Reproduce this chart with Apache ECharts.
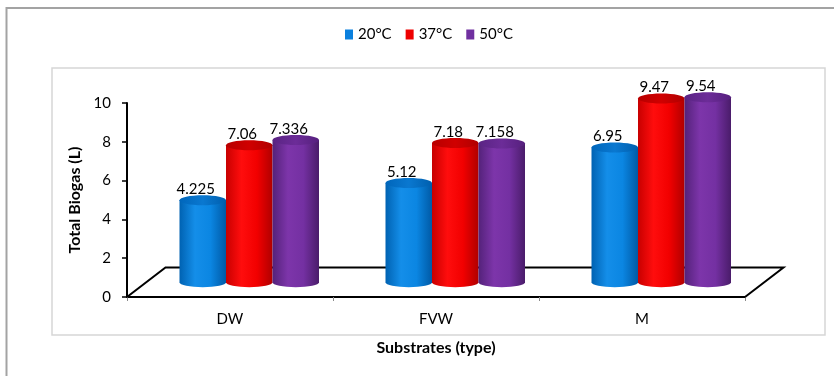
<!DOCTYPE html>
<html>
<head>
<meta charset="utf-8">
<script src="https://cdn.jsdelivr.net/npm/echarts@6/dist/echarts.min.js"></script>
<style>
  html, body { margin: 0; padding: 0; background: #ffffff; }
  #chart { width: 834px; height: 376px; }
</style>
</head>
<body>
<div id="chart"></div>
<script>
// Total biogas yield per substrate at three digestion temperatures
const substrates = ['DW', 'FVW', 'M'];
const temperatures = ['20°C', '37°C', '50°C'];
const biogas20 = [4.225, 5.12, 6.95];
const biogas37 = [7.06, 7.18, 9.47];
const biogas50 = [7.336, 7.158, 9.54];
const yTicks = [0, 2, 4, 6, 8, 10];

const seriesValues = [biogas20, biogas37, biogas50];

// Shading for each cylinder: dark edges, bright core, darker cap
const shades = [
  { legend: '#0a80de', stops: ['#0062b2', '#148ee9', '#0b86e2', '#005aa6'], cap: ['#0066bb', '#0a78d0', '#005fae'] },
  { legend: '#ee0000', stops: ['#c80000', '#ff0d0d', '#f20000', '#b00000'], cap: ['#b80000', '#d00000', '#b00000'] },
  { legend: '#7030a0', stops: ['#54227a', '#7d35aa', '#7430a2', '#4a1c6a'], cap: ['#5a2484', '#6c2c98', '#56207e'] }
];

const FONT = 'Lato, "Open Sans", sans-serif';
const DEPTH = [38.5, -29.5];     // floor depth vector (px)
const BAR_RATIO = 46.5 / 206;    // cylinder diameter relative to category band
const CAP_RY = 5;                // vertical radius of the cylinder ellipses

function grad(colors) {
  const n = colors.length;
  return new echarts.graphic.LinearGradient(0, 0, 1, 0,
    colors.map((c, i) => ({ offset: i / (n - 1), color: c })));
}

function cylinderRenderer(si) {
  return function (params, api) {
    const idx = api.value(0);
    const v = api.value(1);
    const base = api.coord([idx, 0]);
    const top = api.coord([idx, v]);
    const band = api.size([1, 0])[0];
    const w = band * BAR_RATIO;
    const rx = w / 2;
    const cx = base[0] + (si - 1) * w + DEPTH[0] / 2;
    const yb = base[1] + DEPTH[1] / 2;
    const yt = top[1] + DEPTH[1] / 2;
    const sh = shades[si];
    const body = 'M' + (cx - rx) + ' ' + yt +
      ' L' + (cx - rx) + ' ' + yb +
      ' A' + rx + ' ' + CAP_RY + ' 0 0 0 ' + (cx + rx) + ' ' + yb +
      ' L' + (cx + rx) + ' ' + yt + ' Z';
    return {
      type: 'group',
      children: [
        {
          type: 'path',
          shape: { pathData: body },
          style: { fill: grad(sh.stops), stroke: null }
        },
        {
          type: 'ellipse',
          shape: { cx: cx, cy: yt, rx: rx, ry: CAP_RY },
          style: { fill: grad(sh.cap), stroke: null }
        },
        {
          type: 'text',
          style: {
            text: String(v),
            x: cx - 7,
            y: yt - CAP_RY - 6,
            align: 'center',
            verticalAlign: 'middle',
            fontSize: 15,
            fontFamily: FONT,
            fill: '#000000'
          }
        }
      ]
    };
  };
}

// Floor of the 3D plot: left, back and right edges (the front edge is the x axis line)
function floorRenderer(params, api) {
  const cs = params.coordSys;
  const x0 = cs.x, x1 = cs.x + cs.width, y0 = cs.y + cs.height;
  return {
    type: 'polyline',
    shape: {
      points: [
        [x0, y0],
        [x0 + DEPTH[0], y0 + DEPTH[1]],
        [x1 + DEPTH[0], y0 + DEPTH[1]],
        [x1, y0]
      ]
    },
    style: { stroke: '#000000', lineWidth: 2, fill: null }
  };
}

const series = [{
  type: 'custom',
  name: 'floor',
  silent: true,
  z: 1,
  renderItem: floorRenderer,
  data: [[0, 0]]
}];
temperatures.forEach((t, si) => {
  series.push({
    type: 'custom',
    name: t,
    z: 2 + si,
    itemStyle: { color: shades[si].legend },
    renderItem: cylinderRenderer(si),
    encode: { x: 0, y: 1 },
    data: seriesValues[si].map((v, i) => [i, v])
  });
});

const chart = echarts.init(document.getElementById('chart'), null, { renderer: 'canvas' });
chart.setOption({
  backgroundColor: '#ffffff',
  animation: false,
  textStyle: { fontFamily: FONT },
  graphic: [
    {
      type: 'polyline',
      silent: true,
      shape: { points: [[6.5, 376], [6.5, 8], [834, 8]] },
      style: { stroke: '#a3a3a3', lineWidth: 2, fill: null }
    },
    {
      type: 'rect',
      silent: true,
      shape: { x: 52, y: 68, width: 773, height: 267 },
      style: { stroke: '#d6d6d6', lineWidth: 1.5, fill: null }
    }
  ],
  legend: {
    data: temperatures,
    left: 340,
    top: 22,
    icon: 'rect',
    itemWidth: 8,
    itemHeight: 10,
    itemGap: 14,
    textStyle: { fontSize: 15, color: '#000000', fontFamily: FONT }
  },
  grid: { left: 127, right: 89, top: 103, bottom: 79 },
  xAxis: {
    type: 'category',
    data: substrates,
    boundaryGap: true,
    name: 'Substrates (type)',
    nameLocation: 'middle',
    nameGap: 43,
    nameTextStyle: { fontSize: 16, fontWeight: 'bold', color: '#000000', fontFamily: FONT },
    axisLine: { lineStyle: { color: '#000000', width: 2 } },
    axisTick: { show: true, length: 4, lineStyle: { color: '#8a8a8a', width: 1 } },
    axisLabel: { margin: 15, fontSize: 15, color: '#000000', fontFamily: FONT },
    splitLine: { show: false }
  },
  yAxis: {
    type: 'value',
    min: yTicks[0],
    max: yTicks[yTicks.length - 1],
    interval: yTicks[1] - yTicks[0],
    name: 'Total Biogas (L)',
    nameLocation: 'middle',
    nameGap: 41,
    nameTextStyle: { fontSize: 16, fontWeight: 'bold', color: '#000000', fontFamily: FONT },
    axisLine: { show: true, lineStyle: { color: '#000000', width: 2 } },
    axisTick: { show: true, length: 5, lineStyle: { color: '#000000', width: 1.5 } },
    axisLabel: { margin: 16, fontSize: 15, color: '#000000', fontFamily: FONT },
    splitLine: { show: false }
  },
  series: series
});
</script>
</body>
</html>
